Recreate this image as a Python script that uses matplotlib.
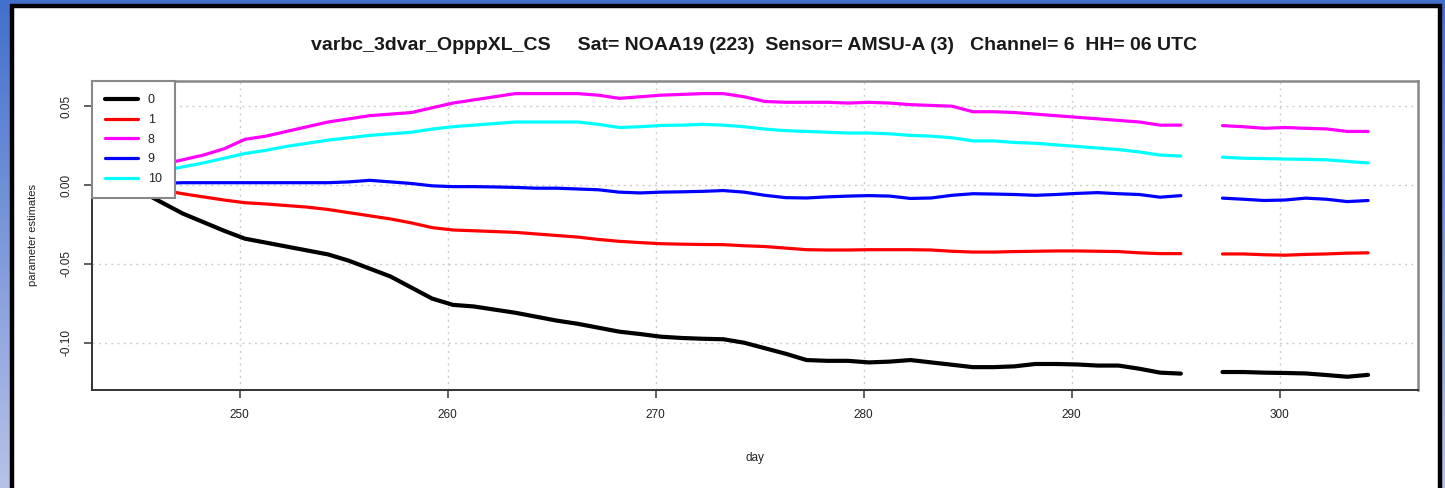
import numpy as np
import matplotlib.pyplot as plt
from matplotlib.patches import Rectangle

plt.rcParams['font.family'] = ['Liberation Sans', 'DejaVu Sans']

# VarBC parameter estimates, NOAA19 AMSU-A channel 6, 06 UTC
# day 296 has no data (gap in the lines)
days = list(range(245, 305))
hour = 6

pred_0 = [-0.004, -0.011, -0.018, -0.0235, -0.029, -0.034, -0.0365, -0.039, -0.0415, -0.044,
          -0.048, -0.053, -0.058, -0.065, -0.072, -0.076, -0.077, -0.079, -0.081, -0.0835,
          -0.086, -0.088, -0.0905, -0.093, -0.0945, -0.0962, -0.097, -0.0975, -0.0978, -0.100,
          -0.1035, -0.107, -0.111, -0.1115, -0.1115, -0.1125, -0.112, -0.111, -0.1125, -0.114,
          -0.1155, -0.1155, -0.115, -0.1135, -0.1135, -0.1138, -0.1145, -0.1145, -0.1165, -0.119,
          -0.1196, None, -0.1186, -0.1186, -0.119, -0.1192, -0.1195, -0.1205, -0.1216, -0.1204]
pred_1 = [0.000, -0.003, -0.0055, -0.0075, -0.0095, -0.0112, -0.012, -0.013, -0.014, -0.0155,
          -0.0175, -0.0195, -0.0215, -0.024, -0.027, -0.0285, -0.029, -0.0295, -0.030, -0.031,
          -0.032, -0.033, -0.0345, -0.0357, -0.0365, -0.0372, -0.0375, -0.0377, -0.0378, -0.0385,
          -0.039, -0.040, -0.041, -0.0412, -0.0412, -0.041, -0.041, -0.041, -0.0412, -0.042,
          -0.0425, -0.0425, -0.0422, -0.042, -0.0418, -0.0418, -0.042, -0.0422, -0.043, -0.0435,
          -0.0435, None, -0.0437, -0.0437, -0.0442, -0.0445, -0.044, -0.0437, -0.0432, -0.043]
pred_8 = [0.010, 0.013, 0.016, 0.019, 0.023, 0.029, 0.031, 0.034, 0.037, 0.040,
          0.042, 0.044, 0.045, 0.046, 0.049, 0.052, 0.054, 0.056, 0.058, 0.058,
          0.058, 0.058, 0.057, 0.055, 0.056, 0.057, 0.0575, 0.058, 0.058, 0.056,
          0.053, 0.0525, 0.0525, 0.0525, 0.052, 0.0525, 0.052, 0.051, 0.0505, 0.050,
          0.0465, 0.0465, 0.046, 0.045, 0.044, 0.043, 0.042, 0.041, 0.040, 0.038,
          0.038, None, 0.0377, 0.037, 0.036, 0.0365, 0.036, 0.0356, 0.034, 0.034]
pred_9 = [0.000, 0.001, 0.0015, 0.0015, 0.0015, 0.0015, 0.0015, 0.0015, 0.0015, 0.0015,
          0.002, 0.003, 0.002, 0.001, -0.0005, -0.001, -0.001, -0.0012, -0.0015, -0.002,
          -0.002, -0.0025, -0.003, -0.0045, -0.005, -0.0045, -0.0043, -0.004, -0.0035, -0.0045,
          -0.0065, -0.008, -0.0082, -0.0075, -0.007, -0.0067, -0.007, -0.0085, -0.0082, -0.0065,
          -0.0055, -0.0057, -0.006, -0.0065, -0.006, -0.0053, -0.0048, -0.0055, -0.006, -0.0077,
          -0.0067, None, -0.0083, -0.009, -0.0098, -0.0095, -0.0083, -0.009, -0.0105, -0.0098]
pred_10 = [0.007, 0.009, 0.0115, 0.014, 0.017, 0.020, 0.022, 0.0245, 0.0265, 0.0285,
           0.030, 0.0315, 0.0325, 0.0335, 0.0355, 0.037, 0.038, 0.039, 0.040, 0.040,
           0.040, 0.040, 0.0385, 0.0365, 0.037, 0.0378, 0.038, 0.0385, 0.038, 0.037,
           0.0355, 0.0345, 0.034, 0.0335, 0.033, 0.033, 0.0325, 0.0315, 0.031, 0.030,
           0.028, 0.028, 0.027, 0.0265, 0.0255, 0.0245, 0.0235, 0.0225, 0.021, 0.019,
           0.0184, None, 0.0177, 0.017, 0.0168, 0.0165, 0.0163, 0.016, 0.015, 0.014]

series = [pred_0, pred_1, pred_8, pred_9, pred_10]
labels = ['0', '1', '8', '9', '10']
colors = ['black', '#ff0000', '#ff00ff', '#0000ff', '#00ffff']
widths = [3.0, 2.3, 2.3, 2.3, 2.3]

x_ticks = [250, 260, 270, 280, 290, 300]
y_ticks = [-0.10, -0.05, 0.00, 0.05]
y_tick_labels = ['-0.10', '-0.05', '0.00', '0.05']

title = ('varbc_3dvar_OpppXL_CS     Sat= NOAA19 (223)  Sensor= AMSU-A (3)'
         '   Channel= 6  HH= 06 UTC')

fig = plt.figure(figsize=(14.45, 4.88), dpi=100)

# blue slide background with white panel
bg = fig.add_axes([0, 0, 1, 1], zorder=-10)
grad = np.linspace(0, 1, 256).reshape(-1, 1)
top_c = np.array([0.26, 0.44, 0.80])
bot_c = np.array([0.72, 0.76, 0.91])
img = top_c + grad[:, :, None] * (bot_c - top_c)
bg.imshow(img, aspect='auto', extent=[0, 1, 0, 1])
bg.add_patch(Rectangle((12 / 1445, -0.01), 1428 / 1445, 1 - 6 / 488 + 0.01,
                       facecolor='white', edgecolor='black', linewidth=3.2))
bg.set_xlim(0, 1)
bg.set_ylim(0, 1)
bg.axis('off')

ax = fig.add_axes([92 / 1445, 1 - 390 / 488, 1326 / 1445, 309 / 488])
x = np.array(days) + hour / 24
for vals, lab, col, lw in zip(series, labels, colors, widths):
    y = np.array([np.nan if v is None else v for v in vals])
    ax.plot(x, y, color=col, lw=lw, label=lab, solid_capstyle='round')

ax.set_xlim(242.9, 306.65)
ax.set_ylim(-0.1300, 0.0660)
ax.set_xticks(x_ticks)
ax.set_yticks(y_ticks)
ax.set_yticklabels(y_tick_labels, rotation=90, va='center')
ax.grid(True, color='#cccccc', linestyle=(0, (1.5, 3)), linewidth=1.0)
ax.tick_params(direction='out', length=6, width=1.2, color='#444444',
               labelsize=8.5, labelcolor='#222222', pad=8)
for side in ['left', 'bottom']:
    ax.spines[side].set_color('#333333')
    ax.spines[side].set_linewidth(1.4)
for side in ['top', 'right']:
    ax.spines[side].set_color('#888888')
    ax.spines[side].set_linewidth(1.8)

ax.set_xlabel('day', fontsize=8.5, color='#222222', labelpad=22)
ax.set_ylabel('parameter estimates', fontsize=8, color='#222222', labelpad=16)
fig.text(754 / 1445, 1 - 45 / 488, title, ha='center', va='center',
         fontsize=14, fontweight='bold', color='#1a1a1a')

leg = ax.legend(loc='upper left', bbox_to_anchor=(0, 1), borderaxespad=0,
                fontsize=9, handlelength=2.6, handletextpad=0.8,
                labelspacing=0.62, fancybox=False, framealpha=1,
                edgecolor='#888888', borderpad=1.05)
leg.get_frame().set_linewidth(1.5)
for t in leg.get_texts():
    t.set_color('#222222')

fig.savefig('out.png', dpi=100)
